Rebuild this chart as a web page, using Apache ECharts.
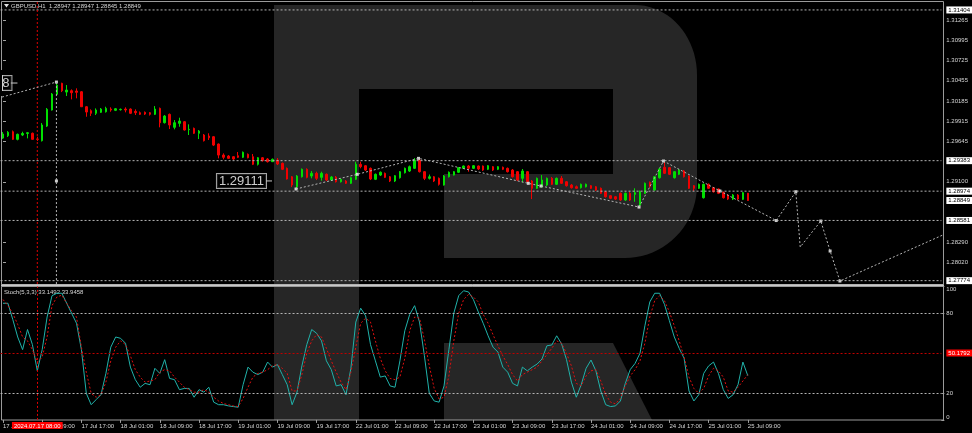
<!DOCTYPE html>
<html><head><meta charset="utf-8">
<script src="https://cdn.jsdelivr.net/npm/echarts@6/dist/echarts.min.js"></script>
<style>html,body{margin:0;padding:0;background:#000;}#c{width:972px;height:433px;}</style>
</head><body><div id="c"></div>
<script>
// ---------- DATA ----------
const timeLabels = ['17 Jul 01:00','17 Jul 09:00','17 Jul 17:00','18 Jul 01:00','18 Jul 09:00','18 Jul 17:00','19 Jul 01:00','19 Jul 09:00','19 Jul 17:00','22 Jul 01:00','22 Jul 09:00','22 Jul 17:00','23 Jul 01:00','23 Jul 09:00','23 Jul 17:00','24 Jul 01:00','24 Jul 09:00','24 Jul 17:00','25 Jul 01:00','25 Jul 09:00'];
const barsPerLabel = 8;
const slotCount = 192;
// [open, close, low, high]
const candles = [
[1.29686,1.29740,1.29673,1.29767],[1.29718,1.29763,1.29700,1.29780],[1.29771,1.29669,1.29660,1.29787],[1.29669,1.29736,1.29655,1.29746],
[1.29727,1.29747,1.29713,1.29771],[1.29747,1.29758,1.29682,1.29767],[1.29750,1.29669,1.29666,1.29760],[1.29673,1.29669,1.29646,1.29704],
[1.29651,1.29861,1.29640,1.29887],[1.29847,1.30071,1.29834,1.30089],[1.30062,1.30276,1.30055,1.30290],[1.30272,1.30397,1.30263,1.30441],
[1.30420,1.30321,1.30303,1.30428],[1.30303,1.30330,1.30250,1.30397],[1.30321,1.30294,1.30205,1.30339],[1.30317,1.30299,1.30219,1.30353],
[1.30307,1.30106,1.30102,1.30317],[1.30106,1.30035,1.29972,1.30115],[1.30053,1.30018,1.29981,1.30071],[1.30018,1.30062,1.29995,1.30084],
[1.30031,1.30075,1.30022,1.30089],[1.30039,1.30084,1.30028,1.30106],[1.30075,1.30062,1.30039,1.30098],[1.30058,1.30079,1.30048,1.30089],
[1.30066,1.30071,1.30055,1.30082],[1.30075,1.30062,1.30031,1.30098],[1.30075,1.30018,1.30008,1.30084],[1.30044,1.30026,1.29995,1.30071],
[1.30026,1.30004,1.29995,1.30042],[1.30031,1.30008,1.29995,1.30042],[1.30026,1.30004,1.29988,1.30035],[1.30004,1.30075,1.29995,1.30115],
[1.30084,1.29892,1.29830,1.30095],[1.29892,1.29981,1.29881,1.29995],[1.30004,1.29861,1.29807,1.30015],[1.29830,1.29892,1.29803,1.29928],
[1.29883,1.29914,1.29838,1.29959],[1.29905,1.29794,1.29787,1.29914],[1.29798,1.29803,1.29727,1.29870],[1.29816,1.29750,1.29740,1.29827],
[1.29750,1.29780,1.29673,1.29794],[1.29727,1.29651,1.29640,1.29740],[1.29713,1.29690,1.29660,1.29750],[1.29704,1.29592,1.29579,1.29713],
[1.29606,1.29458,1.29414,1.29613],[1.29458,1.29428,1.29401,1.29481],[1.29445,1.29414,1.29405,1.29458],[1.29436,1.29405,1.29391,1.29445],
[1.29449,1.29428,1.29418,1.29499],[1.29428,1.29495,1.29418,1.29506],[1.29468,1.29422,1.29414,1.29479],[1.29436,1.29334,1.29324,1.29472],
[1.29334,1.29422,1.29318,1.29432],[1.29422,1.29382,1.29371,1.29432],[1.29405,1.29369,1.29358,1.29418],[1.29369,1.29401,1.29365,1.29412],
[1.29391,1.29338,1.29324,1.29418],[1.29347,1.29267,1.29257,1.29358],[1.29280,1.29137,1.29130,1.29291],[1.29167,1.29056,1.29029,1.29177],
[1.29033,1.29177,1.29003,1.29190],[1.29167,1.29267,1.29157,1.29278],[1.29267,1.29159,1.29146,1.29280],[1.29177,1.29213,1.29146,1.29244],
[1.29213,1.29146,1.29123,1.29235],[1.29159,1.29213,1.29114,1.29235],[1.29200,1.29123,1.29110,1.29211],[1.29123,1.29163,1.29110,1.29177],
[1.29163,1.29100,1.29090,1.29177],[1.29100,1.29133,1.29090,1.29143],[1.29110,1.29079,1.29070,1.29123],[1.29079,1.29154,1.29070,1.29163],
[1.29133,1.29334,1.29123,1.29369],[1.29334,1.29302,1.29280,1.29369],[1.29315,1.29257,1.29244,1.29324],[1.29280,1.29137,1.29123,1.29291],
[1.29133,1.29200,1.29123,1.29211],[1.29190,1.29227,1.29177,1.29238],[1.29213,1.29159,1.29150,1.29224],[1.29167,1.29110,1.29096,1.29177],
[1.29110,1.29181,1.29096,1.29190],[1.29154,1.29235,1.29143,1.29244],[1.29221,1.29280,1.29211,1.29291],[1.29244,1.29302,1.29231,1.29318],
[1.29280,1.29391,1.29271,1.29418],[1.29391,1.29235,1.29224,1.29398],[1.29235,1.29146,1.29123,1.29244],[1.29146,1.29167,1.29130,1.29197],
[1.29167,1.29110,1.29096,1.29177],[1.29146,1.29066,1.29049,1.29157],[1.29056,1.29177,1.29049,1.29190],[1.29167,1.29227,1.29157,1.29238],
[1.29190,1.29235,1.29184,1.29244],[1.29227,1.29289,1.29217,1.29298],[1.29280,1.29311,1.29271,1.29318],[1.29311,1.29280,1.29235,1.29324],
[1.29280,1.29315,1.29271,1.29324],[1.29311,1.29271,1.29257,1.29318],[1.29311,1.29257,1.29244,1.29318],[1.29267,1.29315,1.29257,1.29324],
[1.29302,1.29257,1.29244,1.29311],[1.29267,1.29302,1.29257,1.29311],[1.29294,1.29267,1.29257,1.29304],[1.29280,1.29235,1.29224,1.29291],
[1.29257,1.29167,1.29157,1.29271],[1.29235,1.29123,1.29110,1.29244],[1.29146,1.29244,1.29092,1.29271],[1.29235,1.29100,1.29090,1.29244],
[1.29110,1.29012,1.28868,1.29123],[1.29012,1.29146,1.29003,1.29157],[1.29033,1.29123,1.29023,1.29190],[1.29056,1.29146,1.29043,1.29157],
[1.29146,1.29066,1.29056,1.29163],[1.29066,1.29146,1.29056,1.29157],[1.29146,1.29079,1.29070,1.29177],[1.29100,1.29047,1.29036,1.29110],
[1.29056,1.29020,1.29009,1.29070],[1.29033,1.29012,1.29003,1.29049],[1.29020,1.29066,1.29009,1.29076],[1.29033,1.29066,1.29023,1.29076],
[1.29047,1.29012,1.29003,1.29056],[1.29033,1.28989,1.28976,1.29043],[1.29012,1.28945,1.28935,1.29023],[1.28966,1.28899,1.28888,1.28976],
[1.28913,1.28878,1.28868,1.28922],[1.28899,1.28868,1.28855,1.28909],[1.28945,1.28855,1.28842,1.28956],[1.28855,1.28945,1.28842,1.28956],
[1.28945,1.28855,1.28842,1.28962],[1.28931,1.28953,1.28832,1.29012],[1.28788,1.28966,1.28765,1.28982],[1.28945,1.29079,1.28935,1.29090],
[1.29092,1.29033,1.29023,1.29103],[1.28989,1.29167,1.28982,1.29177],[1.29154,1.29271,1.29143,1.29284],[1.29294,1.29213,1.29204,1.29369],
[1.29289,1.29200,1.29190,1.29298],[1.29154,1.29235,1.29143,1.29244],[1.29200,1.29257,1.29190,1.29271],[1.29244,1.29167,1.29157,1.29257],
[1.29177,1.29012,1.29003,1.29184],[1.29047,1.29012,1.28976,1.29056],[1.29012,1.29066,1.29003,1.29076],[1.28886,1.29066,1.28875,1.29076],
[1.29066,1.29012,1.29003,1.29076],[1.29020,1.28966,1.28955,1.29029],[1.29003,1.28945,1.28935,1.29009],[1.28958,1.28886,1.28875,1.28969],
[1.28922,1.28868,1.28855,1.28935],[1.28868,1.28922,1.28855,1.28935],[1.28922,1.28868,1.28855,1.28935],[1.28864,1.28953,1.28855,1.28962],
[1.28947,1.28849,1.28845,1.28947]
];
const stochK = [
87.5,87.5,75.3,62.2,52.7,67.8,56.5,36.8,52.7,77.2,
93.2,95.0,95.0,87.5,80.0,72.5,52.7,19.9,11.4,15.2,
18.9,34.9,54.6,62.2,61.2,57.5,39.6,30.2,24.5,27.4,
26.4,38.7,34.9,45.2,31.1,30.2,22.7,23.6,23.6,17.0,
22.7,20.8,24.5,13.3,11.4,11.4,10.5,10.0,9.5,26.4,
39.6,35.8,34.0,35.8,43.4,39.6,41.5,34.0,26.4,11.4,
20.8,40.5,56.5,67.8,65.0,59.3,44.3,37.7,25.5,26.4,
18.9,38.7,73.4,83.8,78.1,56.5,44.3,32.1,33.0,25.5,
24.5,44.3,66.9,79.1,85.7,73.4,48.1,19.9,14.2,13.3,
25.5,52.7,80.0,93.2,96.9,96.0,90.3,81.0,72.5,63.1,
54.6,50.9,39.6,35.8,27.4,25.5,39.6,36.8,39.6,41.9,
45.7,55.6,56.2,63.1,57.0,45.2,28.3,17.0,26.4,38.7,
44.9,36.8,21.7,11.4,10.0,10.5,14.2,27.4,37.7,42.4,
50.0,70.6,88.5,95.0,95.0,86.6,74.4,62.2,53.7,46.2,
21.7,14.2,18.9,34.9,40.5,43.4,34.9,22.7,16.1,18.9,
26.4,43.4,33.1492
];
const stochD = [
90.3,85.7,80.0,71.6,62.2,59.3,52.7,43.4,47.1,62.2,
85.7,92.2,93.6,87.5,81.9,77.2,54.6,35.8,19.9,17.0,
18.9,28.3,44.3,54.6,59.3,56.5,48.1,37.7,32.1,28.3,
29.2,30.2,35.8,37.7,36.8,32.1,28.3,24.5,22.7,20.8,
20.8,22.7,20.8,17.0,14.2,12.3,11.4,10.5,10.0,16.1,
24.5,32.1,34.9,35.8,37.7,40.5,41.5,38.7,34.9,21.7,
21.7,34.0,50.0,59.3,64.0,62.2,53.7,44.3,35.8,28.3,
22.7,35.8,54.6,72.5,76.3,73.4,59.3,46.2,36.8,31.1,
30.2,32.1,46.2,66.9,77.2,76.3,60.3,40.5,23.6,15.7,
17.0,33.0,59.3,80.0,90.3,94.1,92.2,88.5,79.1,72.5,
64.0,55.6,48.1,41.5,34.0,29.2,34.0,35.8,37.7,39.6,
44.3,49.0,53.7,59.3,57.5,50.0,40.5,27.4,25.5,33.0,
36.8,37.7,29.2,18.9,13.3,12.0,16.1,25.5,33.0,37.7,
44.3,57.5,77.2,89.4,93.2,89.4,81.0,70.6,59.3,47.1,
32.1,23.6,19.9,23.6,33.0,38.7,36.8,32.1,21.7,20.8,
24.5,29.2,33.9458
];
const priceTicks = [1.31265,1.30995,1.30725,1.30455,1.30185,1.29915,1.29645,1.29100,1.28290,1.28020];
const priceLevels = [1.31404,1.29383,1.28974,1.28581,1.27774];
const currentPrice = 1.28849;
const priceMin = 1.27729, priceMax = 1.31524;
const stochTicks = [0,20,80,100];
const stochLevels = [20,80];
const stochMarkLevel = 50.1792;
const stochMin = 0, stochMax = 100;
const zigzagLead = [[-0.2,1.30236],[10.9,1.30437]];
const zigzagDrop = [[10.9,1.30437],[10.9,1.27729]];
const zigzagMain = [[59.8,1.29003],[72.3,1.29200],[84.8,1.29414],[107.2,1.29079],[109.8,1.29043],[129.8,1.28761],[134.8,1.29378],[146.3,1.28976],[157.8,1.28580],[161.8,1.28966],[162.7,1.28225],[166.9,1.28573],[168.8,1.28171],[170.8,1.27769],[191.8,1.28386]];
const pivotMarks = [[10.9,1.30437],[10.9,1.29111],[59.8,1.29003],[72.3,1.29200],[84.8,1.29414],[107.2,1.29079],[109.8,1.29043],[129.8,1.28761],[134.8,1.29378],[146.3,1.28976],[157.8,1.28580],[161.8,1.28966],[166.9,1.28573],[168.8,1.28171],[170.8,1.27769]];
const boxLabelPoints = [[54.9,1.29111],[2.95,1.30424]];
const boxLabelTexts = ['1.29111','1.30438'];
const boxLeaders = [[[53.7,1.29111],[54.9,1.29111]],[[1.6,1.30424],[2.95,1.30424]]];
const vertLineIndex = 7;
const vertLineLabel = '2024.07.17 08:00';
const titleText = 'GBPUSD,H1  1.28947 1.28947 1.28845 1.28849';
const stochTitle = 'Stoch(5,3,3) 33.1492 33.9458';

// ---------- CHART ----------
const FONT = 'Liberation Sans';
const TXT = '#d6d6d6';
const DOT = '#b4b4b4';
const UP = '#00e000', DOWN = '#f00000';
const catData = Array.from({length: slotCount}, (_, i) => String(i));
const isLabelIdx = (i) => i % barsPerLabel === 0 && (i / barsPerLabel) < timeLabels.length;
const xLo = -0.5, xHi = slotCount - 0.5;

function ellipseArc(cx, cy, rx, ry, a0, a1, n) {
  const pts = [];
  for (let k = 0; k <= n; k++) {
    const t = a0 + (a1 - a0) * k / n;
    pts.push([cx + rx * Math.cos(t), cy + ry * Math.sin(t)]);
  }
  return pts;
}
const bowl = [[274,5],[635,5]]
  .concat(ellipseArc(635,75,62,70,-Math.PI/2,0,20))
  .concat(ellipseArc(625,185,72,73,0,Math.PI/2,20))
  .concat([[444,258],[444,174],[613,174],[613,89],[359,89],[359,420],[274,420]]);
const leg = [[444,343],[613,343],[652,420],[444,420]];

const smallLabel = {color: TXT, fontSize: 6, fontFamily: FONT};
const boxStyle = {backgroundColor: '#ffffff', color: '#000', padding: [1,2,0,2], fontSize: 6, fontFamily: FONT};

const levelSeries = priceLevels.map(v => ({
  type: 'line', xAxisIndex: 1, yAxisIndex: 0, symbol: 'none', silent: true,
  data: [[xLo, v], [xHi, v]],
  lineStyle: {color: DOT, type: [2,2], width: 1},
  endLabel: Object.assign({show: true, distance: 5, formatter: () => v.toFixed(5)}, boxStyle)
}));
levelSeries.push({
  type: 'line', xAxisIndex: 1, yAxisIndex: 0, symbol: 'none', silent: true,
  data: [[xLo, currentPrice], [xHi, currentPrice]],
  lineStyle: {color: 'rgba(0,0,0,0)', width: 0},
  endLabel: Object.assign({show: true, distance: 5, formatter: () => currentPrice.toFixed(5)}, boxStyle)
});
levelSeries.push({
  type: 'line', xAxisIndex: 1, yAxisIndex: 0, symbol: 'none', silent: true,
  data: [[vertLineIndex, priceMin], [vertLineIndex, priceMax]],
  lineStyle: {color: '#e00000', type: [2,2], width: 1}
});

const option = {
  backgroundColor: '#000000',
  animation: false,
  grid: [
    {left: 0.55, top: 1, width: 940.8, height: 283},
    {left: 0.55, top: 286.6, width: 940.8, height: 133.3}
  ],
  xAxis: [
    {type: 'category', gridIndex: 0, data: catData, show: false, boundaryGap: true},
    {type: 'value', gridIndex: 0, min: xLo, max: xHi, show: false},
    {type: 'category', gridIndex: 1, data: catData, boundaryGap: true,
      axisLine: {show: false}, splitLine: {show: false},
      axisTick: {show: true, alignWithLabel: true, interval: (i) => isLabelIdx(i), length: 3, lineStyle: {color: '#a0a0a0'}},
      axisLabel: Object.assign({interval: (i) => isLabelIdx(i), align: 'left', margin: 3,
        formatter: (v, i) => isLabelIdx(i) ? timeLabels[i / barsPerLabel] : ''}, smallLabel)}
  ],
  yAxis: [
    {type: 'value', gridIndex: 0, min: priceMin, max: priceMax, position: 'right',
      splitLine: {show: false}, axisLine: {show: false},
      axisTick: {show: true, customValues: priceTicks, length: 3, lineStyle: {color: '#a0a0a0'}},
      axisLabel: Object.assign({customValues: priceTicks, margin: 5, formatter: v => Number(v).toFixed(5)}, smallLabel)},
    {type: 'value', gridIndex: 1, min: stochMin, max: stochMax, position: 'right',
      splitLine: {show: false}, axisLine: {show: false},
      axisTick: {show: true, customValues: stochTicks, length: 3, lineStyle: {color: '#a0a0a0'}},
      axisLabel: Object.assign({customValues: stochTicks, margin: 5,
        verticalAlignMinLabel: 'bottom', verticalAlignMaxLabel: 'top',
        formatter: v => String(Math.round(v))}, smallLabel)}
  ],
  graphic: [
    {type: 'polygon', shape: {points: bowl}, style: {fill: '#262626'}, silent: true},
    {type: 'polygon', shape: {points: leg}, style: {fill: '#262626'}, silent: true},
    {type: 'rect', shape: {x: 1.5, y: 1.5, width: 942, height: 283}, style: {fill: null, stroke: '#9a9a9a', lineWidth: 1}, silent: true},
    {type: 'line', shape: {x1: 1, y1: 285.5, x2: 944, y2: 285.5}, style: {stroke: '#c8c8c8', lineWidth: 2}, silent: true},
    {type: 'rect', shape: {x: 1.5, y: 286.5, width: 942, height: 133.5}, style: {fill: null, stroke: '#9a9a9a', lineWidth: 1}, silent: true},
    {type: 'polygon', shape: {points: [[4,4],[9,4],[6.5,7.5]]}, style: {fill: '#e0e0e0'}, silent: true},
    {type: 'text', x: 11, y: 3, style: {text: titleText, fill: TXT, font: '6px "Liberation Sans"'}, silent: true},
    {type: 'text', x: 4, y: 289, style: {text: stochTitle, fill: TXT, font: '6px "Liberation Sans"'}, silent: true},
    {type: 'rect', z: 100, shape: {x: 0, y: 70, width: 2, height: 26}, style: {fill: '#000'}, silent: true},
    {type: 'line', z: 101, shape: {x1: 2.5, y1: 75, x2: 2.5, y2: 91}, style: {stroke: '#d0d0d0', lineWidth: 1}, silent: true}
  ],
  series: [
    {type: 'candlestick', xAxisIndex: 0, yAxisIndex: 0, data: candles, barWidth: 2,
      itemStyle: {color: UP, color0: DOWN, borderColor: UP, borderColor0: DOWN, borderWidth: 1}},
    ...levelSeries,
    {type: 'line', xAxisIndex: 1, yAxisIndex: 0, data: zigzagLead, symbol: 'none', clip: false,
      lineStyle: {color: DOT, type: [2,2], width: 1}},
    {type: 'line', xAxisIndex: 1, yAxisIndex: 0, data: zigzagDrop, symbol: 'none', clip: false,
      lineStyle: {color: DOT, type: [2,2], width: 1}},
    {type: 'line', xAxisIndex: 1, yAxisIndex: 0, data: zigzagMain, symbol: 'none', clip: false,
      lineStyle: {color: DOT, type: [2,2], width: 1}},
    {type: 'scatter', xAxisIndex: 1, yAxisIndex: 0, data: pivotMarks, symbol: 'rect', symbolSize: 3,
      itemStyle: {color: '#ffffff'}, clip: false},
    {type: 'line', xAxisIndex: 1, yAxisIndex: 0, data: boxLeaders[0], symbol: 'none', lineStyle: {color: '#c8c8c8', width: 1}, clip: false},
    {type: 'line', xAxisIndex: 1, yAxisIndex: 0, data: boxLeaders[1], symbol: 'none', lineStyle: {color: '#c8c8c8', width: 1}, clip: false},
    {type: 'scatter', xAxisIndex: 1, yAxisIndex: 0, symbolSize: 0, clip: false,
      data: boxLabelPoints.map((p, k) => ({value: p, label: {formatter: boxLabelTexts[k]}})),
      label: {show: true, position: 'left', distance: 6, color: '#ffffff', fontSize: 13, fontFamily: FONT,
        backgroundColor: '#000000', borderColor: '#d0d0d0', borderWidth: 1, padding: [1,2,0,2]}},
    {type: 'line', xAxisIndex: 2, yAxisIndex: 1, data: stochK, symbol: 'none',
      lineStyle: {color: '#20b2aa', width: 1},
      markLine: {symbol: 'none', silent: true, animation: false, data: [
        ...stochLevels.map(v => ({yAxis: v, lineStyle: {color: DOT, type: [2,2], width: 1}, label: {show: false}})),
        {yAxis: stochMarkLevel, lineStyle: {color: '#c00000', type: [2,2], width: 1},
          label: {show: true, position: 'end', distance: 5, formatter: () => stochMarkLevel.toFixed(4),
            backgroundColor: '#ff0000', color: '#ffffff', padding: [1,2,0,2], fontSize: 6, fontFamily: FONT}},
        {xAxis: vertLineIndex, lineStyle: {color: '#e00000', type: [2,2], width: 1},
          label: {show: true, position: 'start', distance: 2, formatter: vertLineLabel,
            backgroundColor: '#ff0000', color: '#ffffff', padding: [1,2,0,2], fontSize: 6, fontFamily: FONT}}
      ]}},
    {type: 'line', xAxisIndex: 2, yAxisIndex: 1, data: stochD, symbol: 'none',
      lineStyle: {color: '#e01010', type: [2,2], width: 1}}
  ]
};
const chart = echarts.init(document.getElementById('c'));
chart.setOption(option);
</script>
</body></html>
